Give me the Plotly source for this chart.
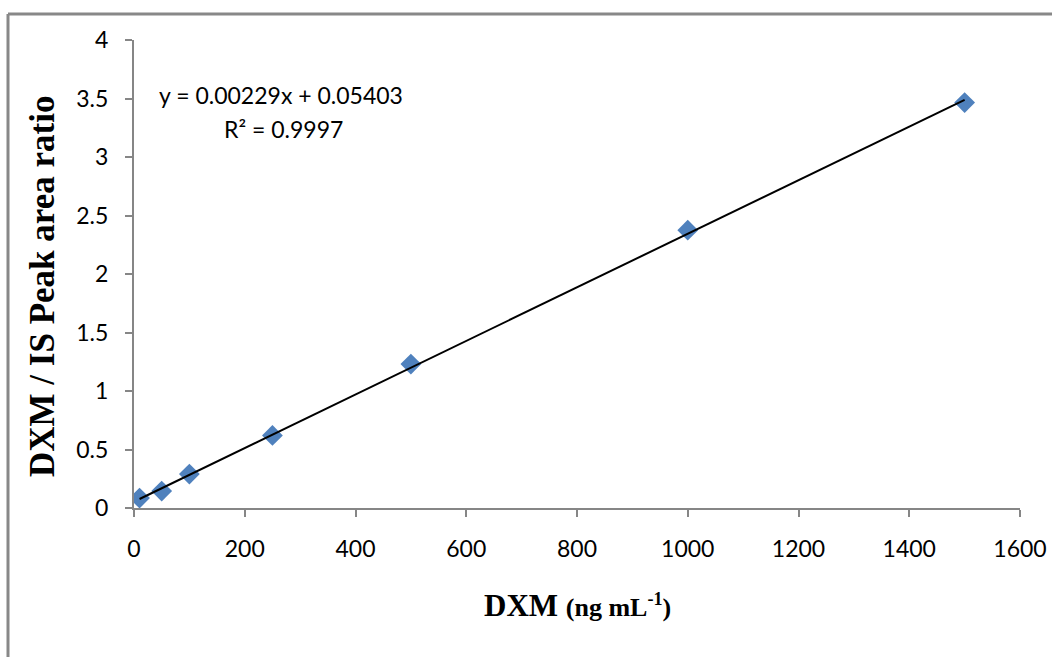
import plotly.graph_objects as go
import numpy as np

# Data
conc = [10, 50, 100, 250, 500, 1000, 1500]
ratio = [0.085, 0.145, 0.29, 0.62, 1.23, 2.375, 3.465]
slope = 0.00229
intercept = 0.05403
r2 = 0.9997
x_ticks = [0, 200, 400, 600, 800, 1000, 1200, 1400, 1600]
y_ticks = [0, 0.5, 1, 1.5, 2, 2.5, 3, 3.5, 4]

fit_x = np.array([min(conc), max(conc)])
fit_y = slope * fit_x + intercept

W, H = 1052, 657
L, R, T, B = 134, 32, 40, 149
pw, ph = W - L - R, H - T - B

def px(xp):
    return (xp - L) / pw

def py(yp):
    return (H - B - yp) / ph

fig = go.Figure()
fig.add_trace(go.Scatter(x=conc, y=ratio, mode="markers",
                         marker=dict(symbol="diamond", size=16, color="#4F81BD",
                                     line=dict(width=0)),
                         showlegend=False, hoverinfo="x+y"))
fig.add_trace(go.Scatter(x=fit_x, y=fit_y, mode="lines",
                         line=dict(color="black", width=2),
                         showlegend=False, hoverinfo="skip"))

tickfont = dict(family="Lato, 'Open Sans', sans-serif", size=23, color="#000")
axis_common = dict(showgrid=False, zeroline=False, showline=True, linecolor="#868686",
                   linewidth=2, ticks="outside", ticklen=7, tickcolor="#868686",
                   tickwidth=2, tickfont=tickfont)

fig.update_layout(
    width=W, height=H,
    margin=dict(l=L, r=R, t=T, b=B, autoexpand=False),
    paper_bgcolor="white", plot_bgcolor="white",
    xaxis=dict(range=[0, 1600], tickvals=x_ticks, ticktext=[str(v) for v in x_ticks],
               ticklabelstandoff=12, **axis_common),
    yaxis=dict(range=[0, 4], tickvals=y_ticks, ticktext=[f"{v:g}" for v in y_ticks],
               ticklabelstandoff=12, **axis_common),
)

# outer chart border (left and top visible)
fig.add_shape(type="line", xref="paper", yref="paper",
              x0=px(8), x1=px(8), y0=py(14), y1=py(700),
              line=dict(color="#888888", width=3))
fig.add_shape(type="line", xref="paper", yref="paper",
              x0=px(8), x1=px(1100), y0=py(14), y1=py(14),
              line=dict(color="#888888", width=3))

serif = "'Liberation Serif', 'Times New Roman', serif"
fig.add_annotation(xref="paper", yref="paper", x=px(42), y=py(287),
                   text="<b>DXM / IS Peak area ratio</b>", textangle=-90,
                   showarrow=False, font=dict(family=serif, size=35, color="#000"),
                   xanchor="center", yanchor="middle")
fig.add_annotation(xref="paper", yref="paper", x=px(577), y=py(605),
                   text="<b>DXM <span style='font-size:26px'>(ng mL<sup>-1</sup>)</span></b>",
                   showarrow=False, font=dict(family=serif, size=31, color="#000"),
                   xanchor="center", yanchor="middle")

fig.add_annotation(xref="paper", yref="paper", x=px(281), y=py(95),
                   text=f"y = {slope:.5f}x + {intercept:.5f}",
                   showarrow=False, font=tickfont, xanchor="center", yanchor="middle")
fig.add_annotation(xref="paper", yref="paper", x=px(283), y=py(129),
                   text=f"R² = {r2}",
                   showarrow=False, font=tickfont, xanchor="center", yanchor="middle")

fig.write_html("out.html", config={"displayModeBar": False},
               post_script="document.body.style.margin='0';document.body.style.overflow='hidden';")
